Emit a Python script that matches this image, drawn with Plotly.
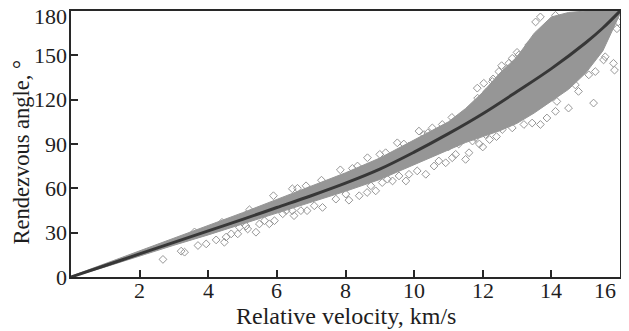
import plotly.graph_objects as go

# Fitted curve
curve_v = [0, 1, 2, 3, 4, 5, 6, 7, 8, 9, 10, 11, 12, 13, 14, 15, 15.5, 16]
curve_a = [0, 7.8, 15.6, 23.4, 31.2, 39.0, 47.0, 55.0, 63.5, 73.0, 84.5, 97.0, 110.5, 125.5, 141.0, 158.5, 168.5, 180]

# Dense scatter band (upper / lower edges)
band_v = [0, 1, 2, 3, 4, 5, 6, 7, 8, 9, 10, 11, 11.5, 12, 12.5, 13, 13.5, 14, 14.5, 15, 15.5, 16]
band_hi = [0.5, 9, 17.5, 26, 34.5, 43.5, 52.5, 61.5, 70.5, 80.5, 92.5, 105, 114, 125, 138, 149, 165, 176, 179, 180, 180, 180]
band_lo = [0, 6.8, 14, 21.5, 28.5, 36, 43, 50.5, 58, 66, 76, 86, 91, 95, 99, 104, 111, 119, 127, 138, 153, 178]

# Scattered individual points
out_v = [2.68, 3.21, 3.31, 3.70, 3.94, 4.23, 4.47, 4.52, 4.67, 4.86, 4.91, 5.10, 5.15, 5.39, 5.49,
         5.64, 5.78, 5.93, 6.17, 6.27, 6.45, 6.50, 6.70, 6.45, 6.85,
         6.88, 7.09, 7.33, 7.72, 8.01, 8.10, 8.40, 8.63, 8.74, 8.88, 9.07, 9.22, 9.37, 9.56, 9.76,
         9.85, 10.09, 10.34, 10.58, 10.72, 10.92, 11.11, 11.21, 11.50, 11.60,
         7.85, 8.35, 8.64, 9.17, 9.51, 9.85, 10.14, 10.29, 10.53, 10.82,
         11.84, 12.03, 12.28, 12.47, 12.76, 12.86, 13.05, 13.34, 13.54, 13.68, 14.12,
         11.79, 12.08, 12.57, 12.86, 13.20, 13.44, 13.68, 13.87, 14.12, 14.16, 14.50, 14.70, 14.79,
         15.09, 15.28, 15.23, 15.52, 15.57, 15.81, 15.91, 15.84, 15.60, 15.95,
         11.00, 11.30, 11.70, 11.90, 12.20, 12.40, 12.00,
         11.85, 12.10, 12.40, 12.60, 12.90,
         5.2, 5.9, 6.6, 7.3, 8.2, 9.0, 9.7, 10.4, 11.1, 4.4, 3.6,
         12.3, 12.7, 13.1, 13.3, 13.0, 12.55]
out_a = [11.9, 17.5, 16.8, 21.3, 22.4, 25.1, 23.5, 27.0, 29.2, 29.2, 33.6, 34.5, 32.5, 30.3, 35.9,
         38.1, 36.0, 38.1, 42.8, 44.9, 44.9, 41.5, 44.9, 59.7, 61.7,
         44.9, 48.2, 47.1, 52.7, 56.1, 52.0, 55.0, 57.2, 61.7, 58.3, 63.9, 66.2, 65.0, 68.4, 65.0,
         69.5, 71.8, 69.5, 75.1, 78.5, 77.3, 80.7, 83.0, 79.6, 84.1,
         72.5, 75.1, 80.7, 84.1, 90.8, 88.6, 98.7, 96.4, 100.9, 103.2,
         127.8, 131.1, 132.3, 139.0, 144.6, 148.0, 150.2, 157.0, 172.6, 176.0, 177.1,
         94.1, 96.4, 99.8, 100.9, 103.2, 104.2, 103.2, 107.6, 112.1, 118.8, 114.3, 130.0, 125.6,
         136.8, 139.0, 117.7, 146.9, 149.0, 144.6, 168.0, 140.0, 173.8, 172.6,
         88.0, 90.0, 92.0, 90.0, 93.0, 95.0, 88.0,
         121.0, 125.0, 128.0, 135.0, 138.0,
         45.5, 55.0, 60.0, 65.5, 73.5, 83.0, 90.0, 97.5, 108.0, 37.0, 30.5,
         134.0, 141.0, 146.0, 153.0, 152.0, 143.0]

x_ticks = [2, 4, 6, 8, 10, 12, 14, 16]
y_ticks = [0, 30, 60, 90, 120, 150, 180]

GRAY = "rgb(150,150,150)"
FONT = "Liberation Serif, Times New Roman, serif"
AX = "rgb(40,40,40)"
TXT = "rgb(30,30,30)"

fig = go.Figure()
fig.add_trace(go.Scatter(
    x=band_v + band_v[::-1], y=band_hi + band_lo[::-1],
    fill="toself", fillcolor=GRAY, mode="lines",
    line=dict(color=GRAY, width=1), hoverinfo="skip", showlegend=False))
fig.add_trace(go.Scatter(
    x=out_v, y=out_a, mode="markers",
    marker=dict(symbol="diamond-open", size=6, color=GRAY, line=dict(width=1, color=GRAY)),
    showlegend=False))
fig.add_trace(go.Scatter(
    x=curve_v, y=curve_a, mode="lines", line=dict(color="rgb(55,55,55)", width=3, shape="spline"),
    showlegend=False))

annotations = []
# x tick labels (last one kept inside the frame, as in the original)
for t in x_ticks:
    last = t == x_ticks[-1]
    annotations.append(dict(text=str(t), xref="x", yref="paper", x=t, y=0,
                            xanchor="right" if last else "center", yanchor="top",
                            xshift=-2 if last else 0, yshift=1, showarrow=False,
                            font=dict(size=22)))
# y tick labels (top one kept inside the figure)
for t in y_ticks:
    last = t == y_ticks[-1]
    annotations.append(dict(text=str(t), xref="paper", yref="y", x=0, y=t,
                            xanchor="right", yanchor="middle",
                            xshift=-2, yshift=-5 if last else 0, showarrow=False,
                            font=dict(size=22)))
annotations += [
    dict(text="Relative velocity, km/s", xref="paper", yref="paper", x=0.5, y=-0.147,
         xanchor="center", yanchor="middle", showarrow=False, font=dict(size=24)),
    dict(text="Rendezvous angle, °", xref="paper", yref="paper", x=-0.091, y=0.468,
         xanchor="center", yanchor="middle", showarrow=False, textangle=-90, font=dict(size=22.5)),
]

# page body has an 8px margin: the figure starts at (8, 8)
fig.update_layout(
    width=621, height=323,
    margin=dict(l=63, r=9, t=1, b=54),
    paper_bgcolor="white", plot_bgcolor="white",
    font=dict(family=FONT, size=22, color=TXT),
    xaxis=dict(range=[0, 16], tickvals=x_ticks, showticklabels=False,
               ticks="inside", ticklen=7, tickwidth=1.5, tickcolor=AX,
               showline=True, linecolor=AX, linewidth=2, mirror=True,
               showgrid=False, zeroline=False),
    yaxis=dict(range=[0, 180], tickvals=y_ticks, showticklabels=False,
               ticks="inside", ticklen=7, tickwidth=1.5, tickcolor=AX,
               showline=True, linecolor=AX, linewidth=2, mirror=True,
               showgrid=False, zeroline=False),
    annotations=annotations,
)

fig.write_html("out.html")
